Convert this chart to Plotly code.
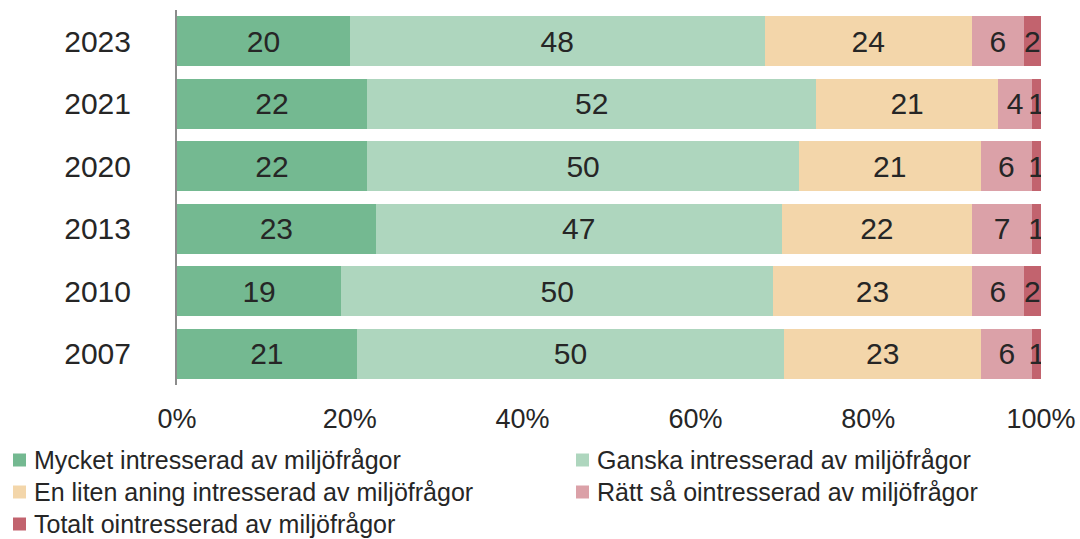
import plotly.graph_objects as go

years = ['2023', '2021', '2020', '2013', '2010', '2007']

mycket = [20, 22, 22, 23, 19, 21]
ganska = [48, 52, 50, 47, 50, 50]
liten = [24, 21, 21, 22, 23, 23]
ratt_sa = [6, 4, 6, 7, 6, 6]
totalt = [2, 1, 1, 1, 2, 1]

ticks = [0, 20, 40, 60, 80, 100]

series = [
    ('Mycket intresserad av miljöfrågor', mycket, '#74B991'),
    ('Ganska intresserad av miljöfrågor', ganska, '#AED6BE'),
    ('En liten aning intresserad av miljöfrågor', liten, '#F3D6AA'),
    ('Rätt så ointresserad av miljöfrågor', ratt_sa, '#DBA1A8'),
    ('Totalt ointresserad av miljöfrågor', totalt, '#C2636E'),
]

FONT = 'Liberation Sans, Arial, sans-serif'
TXT = '#262626'

W, H = 1080, 539
L, R, T, B = 177, 39, 10, 154
pw, ph = W - L - R, H - T - B


def px_x(px):
    return (px - L) / pw


def px_y(py):
    return (H - B - py) / ph


fig = go.Figure()
for name, vals, col in series:
    fig.add_trace(go.Bar(
        y=years, x=vals, name=name, orientation='h',
        marker=dict(color=col, line=dict(width=0)),
        text=[str(v) for v in vals],
        textposition='inside', insidetextanchor='middle',
        textfont=dict(size=30, color=TXT, family=FONT),
        constraintext='none', showlegend=False,
    ))

# legend drawn by hand: two columns, three rows below the axis
# (plotly's own legend pads itself 12px off the edge and pushes the plot up)
col_x = [13, 576]
row_y = [460, 492, 524]
for i, (name, vals, col) in enumerate(series):
    sx, sy = col_x[i % 2], row_y[i // 2]
    fig.add_shape(type='rect', xref='paper', yref='paper',
                  x0=px_x(sx), x1=px_x(sx + 13), y0=px_y(sy + 6.5), y1=px_y(sy - 6.5),
                  fillcolor=col, line=dict(width=0))
    fig.add_annotation(text=name, xref='paper', yref='paper',
                       x=px_x(sx + 19), y=px_y(sy), xanchor='left', yanchor='middle',
                       showarrow=False, font=dict(size=25, color=TXT, family=FONT))

fig.update_layout(
    barmode='stack', barnorm='percent', bargap=0.2,
    width=W, height=H,
    margin=dict(l=L, r=R, t=T, b=B),
    paper_bgcolor='white', plot_bgcolor='white',
    font=dict(family=FONT, color=TXT, size=25),
    uniformtext=dict(minsize=30, mode='show'),
    showlegend=False,
)
fig.update_xaxes(
    range=[0, 100], tickvals=ticks, ticktext=[f'{t}%' for t in ticks],
    showgrid=False, zeroline=False, showline=False, automargin=False,
    tickfont=dict(size=27, color=TXT), ticklabelstandoff=15,
)
fig.update_yaxes(
    autorange='reversed', showgrid=False, zeroline=False, automargin=False,
    showline=True, linecolor='#8C8C8C', linewidth=2,
    tickfont=dict(size=30, color=TXT), ticklabelstandoff=38,
)

# drop the page's default 8px body margin so the figure sits at the corner
fig.write_html('out.html', config={'displayModeBar': False},
               post_script="document.body.style.margin='0';")
